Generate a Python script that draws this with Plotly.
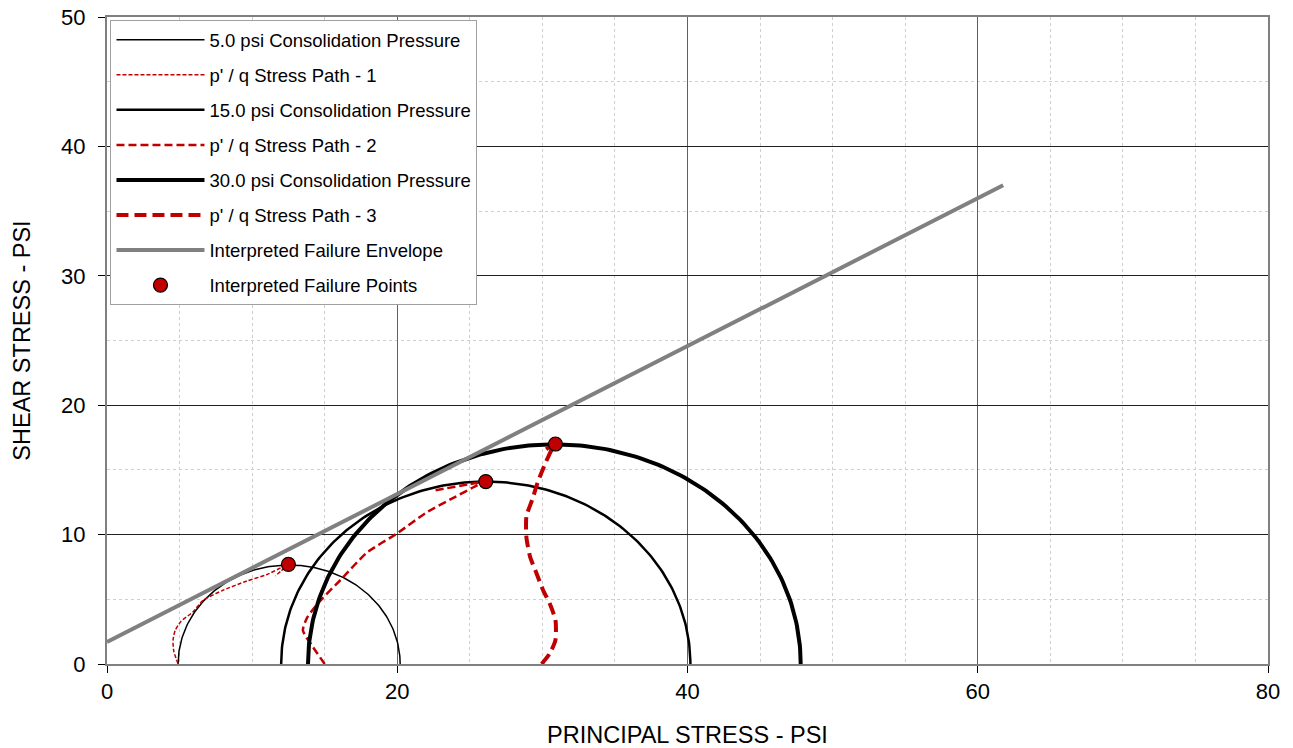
import numpy as np
import plotly.graph_objects as go

# Triaxial test results: minor / major principal effective stress at failure (psi)
consolidation_labels = ["5.0 psi Consolidation Pressure",
                        "15.0 psi Consolidation Pressure",
                        "30.0 psi Consolidation Pressure"]
sigma3 = [4.9, 12.0, 13.85]
sigma1 = [20.2, 40.2, 47.8]

# p' / q stress paths (psi)
path1_p = [4.9, 4.6, 4.55, 4.7, 5.1, 5.9, 6.6, 8.0, 9.6, 11.0, 12.1, 12.5, 12.0, 11.6]
path1_q = [0.0, 1.0, 1.85, 2.6, 3.3, 4.0, 4.9, 5.7, 6.4, 6.9, 7.5, 7.7, 7.2, 6.8]

path2_p = [15.0, 14.2, 13.5, 13.8, 14.7, 16.1, 17.9, 20.0, 22.0, 23.8, 25.5, 26.1, 25.0, 22.5]
path2_q = [0.0, 1.3, 2.6, 3.6, 4.9, 6.5, 8.6, 10.1, 11.7, 12.8, 13.8, 14.1, 13.9, 13.4]

path3_p = [29.95, 30.5, 30.9, 30.9, 30.5, 30.05, 29.6, 29.15, 28.9, 28.9, 29.3, 29.7, 30.2, 30.7, 30.9, 30.4, 29.95]
path3_q = [0.0, 0.8, 1.85, 3.4, 4.7, 5.7, 7.0, 8.3, 9.8, 11.4, 12.7, 14.1, 15.5, 16.7, 17.0, 16.7, 16.3]

path_labels = ["p' / q Stress Path - 1", "p' / q Stress Path - 2", "p' / q Stress Path - 3"]

# Interpreted failure envelope end points
env_p = [0.0, 61.75]
env_q = [1.7, 37.0]

# Interpreted failure points
fail_p = [12.5, 26.1, 30.9]
fail_q = [7.7, 14.1, 17.0]

RED = "#C00000"
FONT = "Liberation Sans, Arial, sans-serif"


def mohr_semicircle(s3, s1, n=181):
    c = (s1 + s3) / 2.0
    r = (s1 - s3) / 2.0
    t = np.linspace(np.pi, 0.0, n)
    return c + r * np.cos(t), r * np.sin(t)


circle_widths = [1.5, 2.5, 4.0]
path_styles = [(1.5, "4px,2px"), (2.5, "8px,4px"), (4.0, "12px,6px")]
paths = [(path1_p, path1_q), (path2_p, path2_q), (path3_p, path3_q)]

fig = go.Figure()
group = 0
for i in range(3):
    cx, cy = mohr_semicircle(sigma3[i], sigma1[i])
    fig.add_trace(go.Scatter(
        x=cx, y=cy, mode="lines", name=consolidation_labels[i],
        line=dict(color="black", width=circle_widths[i]),
        legendgroup=f"g{group}", hoverinfo="skip"))
    group += 1
    w, d = path_styles[i]
    fig.add_trace(go.Scatter(
        x=paths[i][0], y=paths[i][1], mode="lines", name=path_labels[i],
        line=dict(color=RED, width=w, dash=d, shape="spline", smoothing=0.6),
        legendgroup=f"g{group}"))
    group += 1

fig.add_trace(go.Scatter(
    x=env_p, y=env_q, mode="lines", name="Interpreted Failure Envelope",
    line=dict(color="#808080", width=4), legendgroup=f"g{group}"))
group += 1
fig.add_trace(go.Scatter(
    x=fail_p, y=fail_q, mode="markers", name="Interpreted Failure Points",
    marker=dict(color=RED, size=14, line=dict(color="black", width=1.2)),
    legendgroup=f"g{group}"))

axis_common = dict(
    showline=True, mirror=True, linecolor="#808080", linewidth=2,
    ticks="outside", ticklen=7, tickcolor="black", tickwidth=1,
    tickfont=dict(family=FONT, size=22, color="black"),
    zeroline=False, automargin=False,
    minor=dict(showgrid=True, gridcolor="#CFCFCF", griddash="dot", gridwidth=1, ticks=""),
)

fig.update_xaxes(
    range=[0, 80], dtick=20, tick0=0,
    gridcolor="#606060", gridwidth=1,
    minor_dtick=5, ticklabelstandoff=0,
    title=dict(text="PRINCIPAL STRESS - PSI", font=dict(family=FONT, size=23.5, color="black"),
               standoff=28),
    **axis_common)
fig.update_yaxes(
    range=[0, 50], dtick=10, tick0=0,
    gridcolor="#202020", gridwidth=1,
    minor_dtick=5, ticklabelstandoff=8,
    title=dict(text="SHEAR STRESS - PSI", font=dict(family=FONT, size=23.5, color="black"),
               standoff=24),
    **axis_common)

fig.update_layout(
    width=1293, height=748,
    margin=dict(l=107, r=25, t=17, b=84),
    paper_bgcolor="white", plot_bgcolor="white",
    font=dict(family=FONT, color="black"),
    legend=dict(
        x=0.003, y=0.995, xanchor="left", yanchor="top",
        bgcolor="white", bordercolor="#A0A0A0", borderwidth=1,
        font=dict(family=FONT, size=18.5, color="black"),
        traceorder="grouped", tracegroupgap=8, itemwidth=88,
        entrywidth=280, entrywidthmode="pixels",
    ),
    showlegend=True,
)

fig.write_html("out.html")
